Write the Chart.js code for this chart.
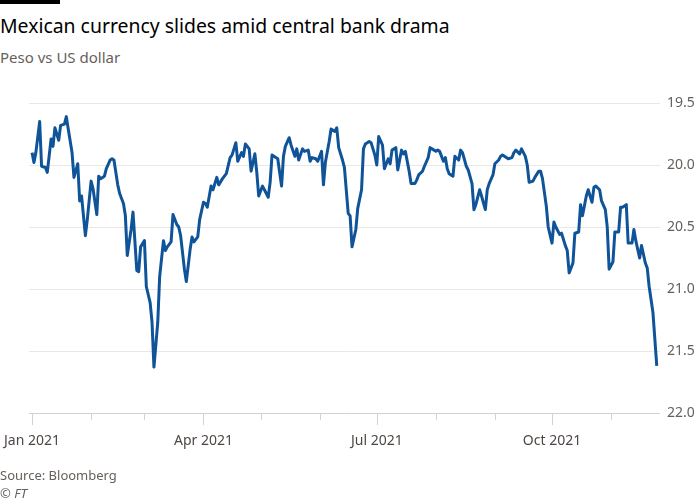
<!DOCTYPE html>
<html>
<head>
<meta charset="utf-8">
<script src="https://cdn.jsdelivr.net/npm/chart.js@4.4.0/dist/chart.umd.min.js"></script>
<style>
  body { margin: 0; background: #fff; }
  #wrap { position: relative; width: 700px; height: 500px; overflow: hidden; font-family: 'Noto Sans', sans-serif; }
  #bar { position: absolute; left: 0; top: 0; width: 60px; height: 4px; background: #000; }
  #title { position: absolute; left: 0; top: 13px; font-size: 19.4px; line-height: 26px; color: #000; white-space: nowrap; }
  #subtitle { position: absolute; left: 0; top: 47px; font-size: 15px; line-height: 20px; color: #66605c; white-space: nowrap; }
  #source { position: absolute; left: 0; top: 466px; font-size: 13px; line-height: 18px; color: #66605c; }
  #copy { position: absolute; left: 0; top: 484px; font-size: 13px; line-height: 18px; color: #66605c; font-style: italic; }
  canvas { position: absolute; left: 0; top: 0; }
</style>
</head>
<body>
<div id="wrap">
  <div id="bar"></div>
  <div id="title">Mexican currency slides amid central bank drama</div>
  <div id="subtitle">Peso vs US dollar</div>
  <canvas id="chart" width="700" height="500"></canvas>
  <div id="source">Source: Bloomberg</div>
  <div id="copy">© FT</div>
</div>
<script>
// day of 2021 (0 = 1 Jan) and pesos per dollar
const daysQ1 = [0,1,2,4,5,7,8,10,11,12,14,15,17,18,19,21,22,24,25,26,28,29,31,32,34,35,36,38,39,41,42,43,45,46,48,49,50,52,53,55,56,57,59,60,62,63,64,66,67,69,70,71,73,74,76,77,78,80,81,83,84,85,87,88,90,91,92,94,95,97,98];
const pesoQ1 = [19.90,19.98,19.90,19.65,20.01,20.02,20.06,19.79,19.85,19.70,19.80,19.68,19.67,19.61,19.71,19.90,20.10,19.99,20.29,20.25,20.57,20.44,20.13,20.19,20.40,20.09,20.11,20.09,20.03,19.96,19.95,19.96,20.16,20.23,20.31,20.41,20.73,20.52,20.38,20.85,20.86,20.66,20.61,20.98,21.11,21.27,21.63,21.27,20.90,20.61,20.69,20.66,20.62,20.40,20.48,20.50,20.57,20.84,20.94,20.68,20.58,20.62,20.58,20.44,20.30,20.31,20.34,20.17,20.20,20.10,20.16];

const daysMid = [100,102,104,105,107,108,110,111,112,114,115,117,118,119,121,122,124,125,126,128,129,131,132,133,135,136,138,139,140,142,143,145,146,147,149,150,152,153,154,156,157,159,160,161,163,164,166,167,168,170,171,173,174,175,177,178,180,181,182,184,185,187,188,189,191,192,194,195,196,198,199,201,202,203,205,206,208,209,210,212,213];
const pesoMid = [20.11,20.07,19.94,19.92,19.82,19.97,19.90,19.93,19.83,19.87,20.05,19.91,20.06,20.25,20.17,20.20,20.26,20.14,19.92,19.94,19.95,20.17,19.93,19.85,19.78,19.84,19.93,19.87,19.96,19.87,19.89,19.88,19.97,19.94,19.95,19.97,19.89,20.16,19.98,19.81,19.71,19.73,19.70,19.86,19.96,20.02,20.39,20.41,20.66,20.52,20.35,20.20,19.87,19.83,19.81,19.82,19.92,20.00,19.77,19.84,20.03,19.95,19.99,19.88,19.86,20.04,19.88,19.91,19.89,20.05,20.15,20.15,20.12,20.08,20.05,20.01,19.94,19.86,19.87,19.89,19.88];

const daysLate = [214,216,217,218,219,221,222,224,225,226,228,229,231,232,233,235,236,238,239,240,242,243,245,246,247,249,250,252,253,254,256,257,259,260,261,263,264,266,267,268,270,271,273,274,275,277,278,280,281,282,284,285,287,288,289,291,292,294,295,296,298,299,301,302,303,305,306,308,309,310,312,313,315,316,317,319,320,322,323,324,326,328];
const pesoLate = [19.89,19.97,19.94,20.03,20.07,20.09,19.93,19.96,19.88,19.90,20.01,20.04,20.15,20.36,20.32,20.20,20.25,20.36,20.20,20.15,20.08,19.99,19.96,19.93,19.92,19.94,19.95,19.94,19.90,19.88,19.91,19.87,19.93,20.00,20.14,20.13,20.10,20.05,20.05,20.11,20.33,20.50,20.63,20.46,20.50,20.56,20.55,20.65,20.69,20.87,20.79,20.55,20.54,20.32,20.41,20.25,20.20,20.30,20.18,20.17,20.20,20.29,20.36,20.50,20.84,20.78,20.54,20.54,20.34,20.34,20.32,20.63,20.63,20.52,20.61,20.75,20.65,20.79,20.83,20.98,21.19,21.62];

const monthStarts = [0,31,59,90,120,151,181,212,243,273,304];
const monthLabels = ['Jan 2021','','','Apr 2021','','','Jul 2021','','','Oct 2021',''];
const yTicks = [19.5,20.0,20.5,21.0,21.5,22.0];

const days = daysQ1.concat(daysMid, daysLate);
const peso = pesoQ1.concat(pesoMid, pesoLate);
const points = days.map((d, i) => ({ x: d, y: peso[i] }));

const monthTickMarks = {
    id: 'monthTickMarks',
    afterDraw(chart) {
        const xs = chart.scales.x;
        const ctx = chart.ctx;
        const base = chart.chartArea.bottom;
        ctx.save();
        ctx.strokeStyle = '#d6d1cc';
        ctx.lineWidth = 1;
        monthStarts.forEach((d, i) => {
            const x = Math.round(xs.getPixelForValue(d)) + 0.5;
            const len = monthLabels[i] ? 12 : 7;
            ctx.beginPath();
            ctx.moveTo(x, base);
            ctx.lineTo(x, base + len);
            ctx.stroke();
        });
        ctx.restore();
    }
};

new Chart(document.getElementById('chart').getContext('2d'), {
    type: 'line',
    data: {
        datasets: [{
            data: points,
            borderColor: '#0f5499',
            borderWidth: 3,
            pointRadius: 0,
            tension: 0,
            borderJoinStyle: 'round'
        }]
    },
    options: {
        responsive: false,
        animation: false,
        layout: { padding: { top: 103, left: 29, right: 0, bottom: 0 } },
        plugins: { legend: { display: false }, tooltip: { enabled: false } },
        scales: {
            x: {
                type: 'linear',
                min: -1.6,
                max: 329.7,
                afterFit: s => { s.height = 87; s.paddingLeft = 0; s.paddingRight = 0; },
                afterBuildTicks: s => { s.ticks = monthStarts.map(v => ({ value: v })); },
                grid: { display: false },
                border: { display: false },
                ticks: {
                    autoSkip: false,
                    maxRotation: 0,
                    padding: 12,
                    color: '#4d4845',
                    font: { family: 'Noto Sans', size: 14 },
                    callback: (v, i) => monthLabels[i]
                }
            },
            y: {
                position: 'right',
                reverse: true,
                min: 19.5,
                max: 22.0,
                afterFit: s => { s.width = 40; },
                afterBuildTicks: s => { s.ticks = yTicks.map(v => ({ value: v })); },
                grid: {
                    color: ctx => ctx.tick && ctx.tick.value === 22 ? '#d6d1cc' : '#ebe7e3',
                    drawTicks: false
                },
                border: { display: false },
                ticks: {
                    padding: 7,
                    color: '#66605c',
                    font: { family: 'Noto Sans', size: 14 },
                    callback: v => v.toFixed(1)
                }
            }
        }
    },
    plugins: [monthTickMarks]
});
</script>
</body>
</html>
